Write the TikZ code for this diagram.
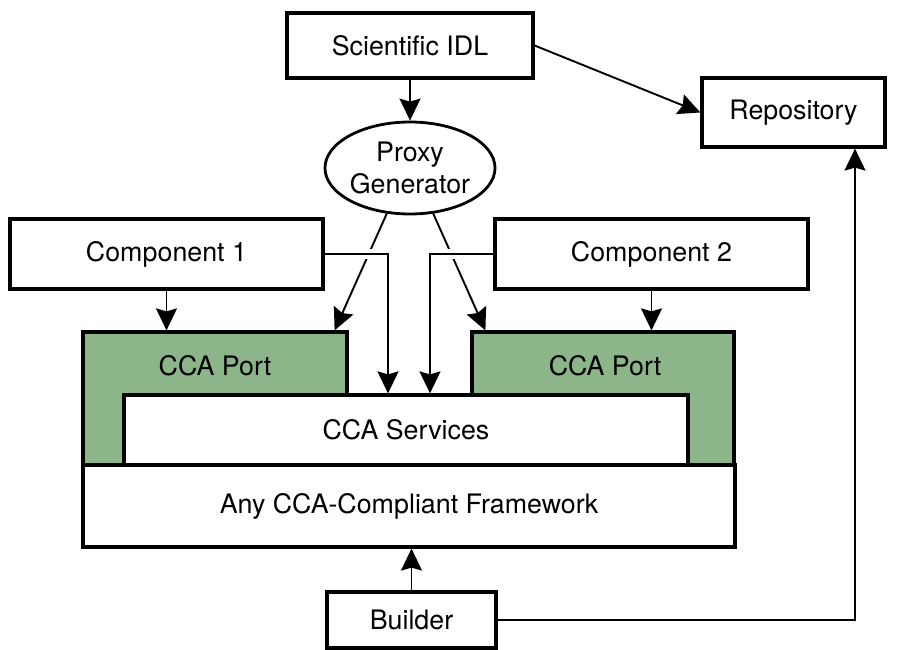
\documentclass[tikz,border=0pt]{standalone}
\usepackage{fontspec}
\setmainfont{TeX Gyre Heros}
\usetikzlibrary{arrows.meta,shapes.geometric}
\definecolor{portgreen}{HTML}{8CB58A}
\tikzset{bighead/.tip={Stealth[length=22pt 0 0,width=21pt 0 0,inset=3pt 0 0]}}
\begin{document}
\begin{tikzpicture}[x=1pt,y=-1pt,
  every node/.style={font=\fontsize{26.8}{32}\selectfont, inner sep=0pt},
  box/.style={draw, line width=3.2pt, fill=white, rectangle},
  port/.style={draw, line width=3.2pt, fill=portgreen, rectangle},
  conn/.style={line width=1.9pt, -bighead},
  halo/.style={white, line width=10pt}]
\useasboundingbox (0,0) rectangle (897,650);
% boxes
\node[box, minimum width=246pt, minimum height=65pt] (idl) at (410,45.5) {Scientific IDL};
\node[box, minimum width=183pt, minimum height=69pt] (repo) at (793.5,112.5) {Repository};
\node[draw, ellipse, line width=2.8pt, fill=white, minimum width=156pt, minimum height=92pt, align=center] (proxy) at (410,168) {Proxy\\Generator};
\node[box, minimum width=313pt, minimum height=70pt] (c1) at (166.5,254) {Component 1};
\node[box, minimum width=313pt, minimum height=70pt] (c2) at (651.5,254) {Component 2};
\node[port, minimum width=264pt, minimum height=133pt] (p1) at (215,398.5) {};
\node[port, minimum width=262pt, minimum height=133pt] (p2) at (603,398.5) {};
\node (p1t) at (215,366) {CCA Port};
\node (p2t) at (605,366) {CCA Port};
\node[box, minimum width=564pt, minimum height=70pt] (serv) at (406,430) {CCA Services};
\node[box, minimum width=652pt, minimum height=82pt] (fw) at (409,506) {Any CCA-Compliant Framework};
\node[box, minimum width=169pt, minimum height=56pt] (bld) at (411.5,620) {Builder};
% connectors
\draw[conn] (idl.south) -- (proxy.north);
\draw[conn] (idl.east) -- (repo.west);
\draw[conn] (proxy.243) -- ([xshift=-14pt]p1.north east);
\draw[conn] (proxy.297) -- ([xshift=15pt]p2.north west);
\draw[halo] ([xshift=4pt]c1.east) -- ([xshift=-21pt]serv.north |- c1.east);
\draw[halo] ([xshift=-4pt]c2.west) -- ([xshift=27pt]serv.north |- c2.west);
\draw[conn] (c1.east) -| ([xshift=-18pt]serv.north);
\draw[conn] (c2.west) -| ([xshift=24pt]serv.north);
\draw[conn] (c1.south) -- (c1.south |- p1.north);
\draw[conn] (c2.south) -- (c2.south |- p2.north);
\draw[conn] (bld.north) -- (bld.north |- fw.south);
\draw[conn] (bld.east) -| ([xshift=61.5pt]repo.south);
\end{tikzpicture}
\end{document}
